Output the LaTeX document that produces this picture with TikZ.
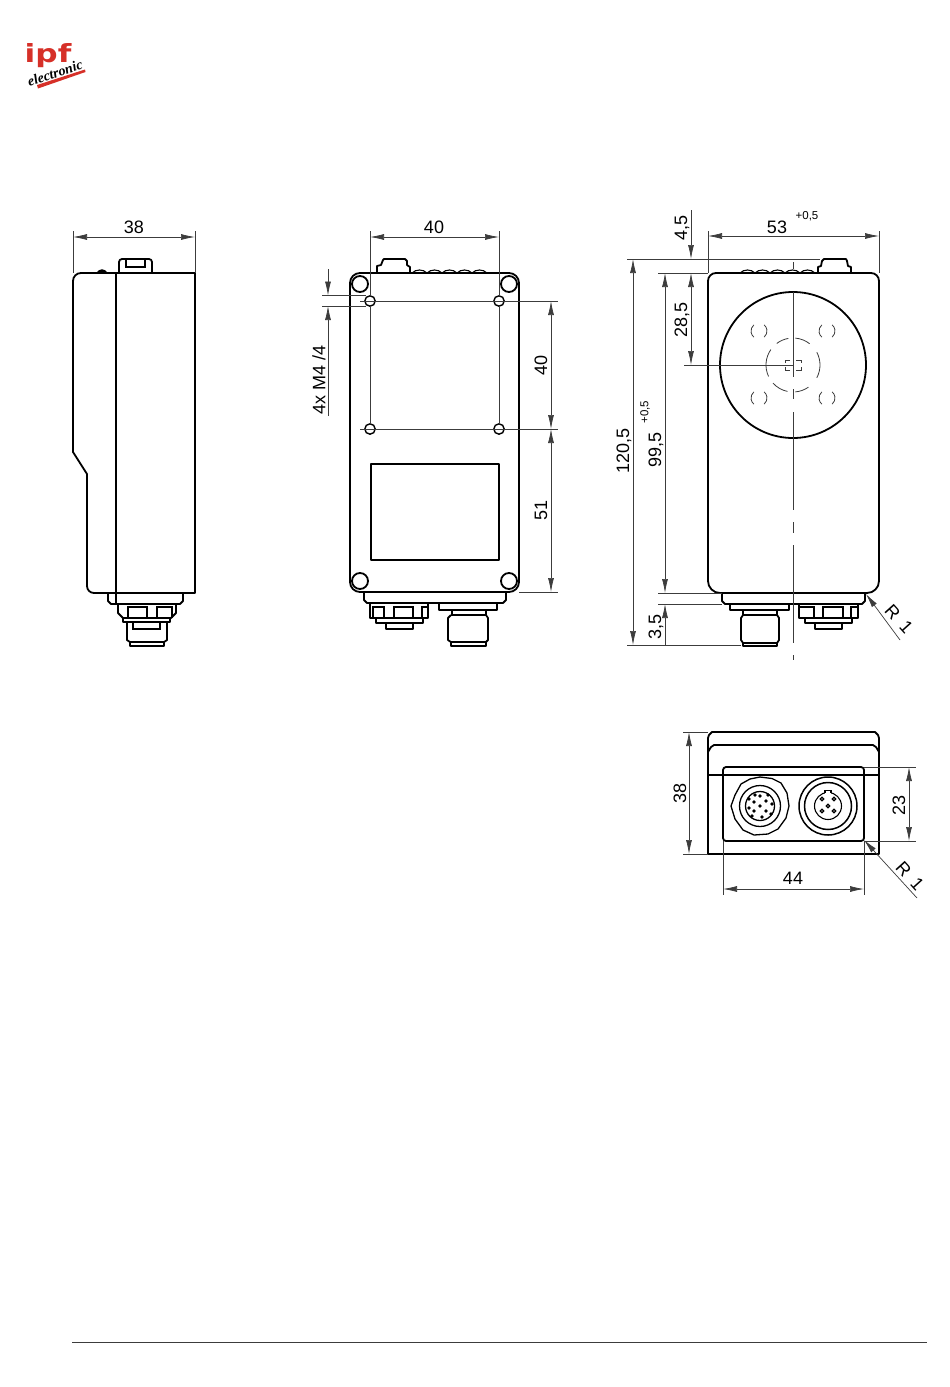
\documentclass[tikz,border=0pt]{standalone}
\usepackage{fontspec}
\setmainfont{Liberation Sans}
\newfontfamily\logofont{DejaVu Sans}
\newfontfamily\logoscript{Liberation Serif}
\usetikzlibrary{arrows.meta}

\definecolor{logored}{RGB}{214,48,40}
\definecolor{dimgray}{RGB}{60,60,60}

\begin{document}
\begin{tikzpicture}[
  x=1pt, y=-1pt,
  outline/.style={line width=1.8pt, black, line join=round},
  detail/.style={line width=1.1pt, black},
  lensmark/.style={line width=0.8pt, dimgray},
  centerline/.style={line width=0.9pt, dimgray},
  extline/.style={line width=0.7pt, dimgray},
  dimline/.style={line width=0.7pt, dimgray, {Latex[length=14pt,width=6pt]}-{Latex[length=14pt,width=6pt]}},
  oneway/.style={line width=0.7pt, dimgray, -{Latex[length=14pt,width=6pt]}},
  leader/.style={line width=0.7pt, dimgray, {Latex[length=14pt,width=6pt]}-},
  dimtext/.style={font=\fontsize{18}{18}\selectfont, text=black, inner sep=0pt},
  tolerance/.style={font=\fontsize{11.5}{12}\selectfont, text=black, inner sep=0pt}
]
\useasboundingbox (0,0) rectangle (950,1387);

% ====== LOGO ======
\node[font=\logofont\bfseries\fontsize{25}{25}\selectfont, text=logored, inner sep=0pt, xscale=1.25, anchor=base] (logoname) at (48,62) {ipf};
\fill[logored] (37,85) -- (85,69.5) -- (85.5,72) -- (38,88.5) -- cycle;
\node[font=\logoscript\itshape\bfseries\fontsize{14}{14}\selectfont, rotate=18, inner sep=0pt] (logosub) at (55,73) {electronic};

% ====== LEFT VIEW ======
\draw[outline] (87,586) -- (87,474) -- (73,452) -- (73,281) arc[start angle=180, end angle=270, radius=8]
  -- (195,273) -- (195,593) -- (94,593) arc[start angle=90, end angle=180, radius=7];
\draw[outline] (116,273) -- (116,604);
% tab and bump
\draw[outline] (119,273) -- (119,262) arc[start angle=180, end angle=270, radius=3] -- (149,259) arc[start angle=270, end angle=360, radius=3] -- (152,273);
\draw[detail] (126,260) -- (126,267) -- (145,267) -- (145,260);
\fill (96,273) .. controls (100,268) and (104,268) .. (108,273) -- cycle;
% connector
\draw[outline] (108,593) -- (108,601) -- (111,604) -- (180,604) -- (183,601) -- (183,593);
\draw[outline] (118,604) -- (118,613) -- (123,618) -- (171,618) -- (176,613) -- (176,604);
\draw[detail] (128,618) -- (128,607) -- (147,607) -- (147,618);
\draw[detail] (157,618) -- (157,607) -- (172,607) -- (172,618);
\draw[outline] (123,618) -- (123,622) -- (170,622) -- (170,618);
\draw[outline] (127,622) -- (127,640) -- (130,642) -- (164,642) -- (167,640) -- (167,622);
\draw[detail] (133,622) -- (133,629) -- (160,629) -- (160,622);
\draw[outline] (130,642) -- (130,646) -- (164,646) -- (164,642);
% dimension
\draw[extline] (73,231) -- (73,273);
\draw[extline] (195,231) -- (195,273);
\draw[dimline] (73,237) -- (195,237);
\node[dimtext] (lwidth) at (134,227) {38};

% ====== MIDDLE VIEW ======
\draw[outline] (350,283) arc[start angle=180, end angle=270, radius=10] -- (509,273) arc[start angle=270, end angle=360, radius=10]
  -- (519,582) arc[start angle=0, end angle=90, radius=10] -- (360,592) arc[start angle=90, end angle=180, radius=10] -- cycle;
\foreach \hx/\hy in {360/284, 509/284, 360/581, 509/581}
  \draw[outline] (\hx,\hy) circle[radius=8];
\foreach \hx/\hy in {370/301, 499/301, 370/429, 499/429}
  \draw[outline, line width=1.4pt] (\hx,\hy) circle[radius=5.2];
\draw[outline] (371,464) rectangle (499,560);
% tab and waves
\draw[outline] (377,273) -- (377,266) -- (381,265) -- (383,260) -- (384,259) -- (405,259) -- (407,261) -- (407,265) -- (410,267) -- (410,273) -- (412,273);
\draw[detail] (412,273) \foreach \wx in {412,427,442,457,472} { .. controls (\wx+4,269) and (\wx+11,269) .. (\wx+15,273) };
% connectors
\draw[outline] (364,592) -- (364,600) -- (367,603) -- (503,603) -- (506,600) -- (506,592);
\draw[outline] (370,603) -- (370,618) -- (428,618) -- (428,603);
\draw[detail] (373,618) -- (373,607) -- (384,607) -- (384,618);
\draw[detail] (394,618) -- (394,607) -- (413,607) -- (413,618);
\draw[detail] (422,618) -- (422,607) -- (428,607);
\draw[outline] (376,618) -- (376,623) -- (423,623) -- (423,618);
\draw[outline] (386,623) -- (386,629) -- (413,629) -- (413,623);
\draw[outline] (439,603) -- (439,610) -- (497,610) -- (497,603);
\draw[detail] (452,610) -- (452,615);
\draw[detail] (486,610) -- (486,615);
\draw[detail] (451,615) -- (487,615);
\draw[outline] (451,615) -- (448,618) -- (448,640) -- (451,642) -- (486,642) -- (488,640) -- (488,618) -- (486,615);
\draw[outline] (451,642) -- (451,646) -- (486,646) -- (486,642);
% dimensions
\draw[extline] (370,231) -- (370,296);
\draw[extline] (499,231) -- (499,296);
\draw[extline] (370,306) -- (370,424);
\draw[extline] (499,306) -- (499,424);
\draw[dimline] (370,237) -- (499,237);
\node[dimtext] (mwidth) at (434,227) {40};
\draw[extline] (360,301) -- (558,301);
\draw[extline] (360,429) -- (558,429);
\draw[extline] (519,592) -- (558,592);
\draw[dimline] (551,301) -- (551,429);
\draw[dimline] (551,429) -- (551,592);
\node[dimtext, rotate=90] (mhole) at (541,365) {40};
\node[dimtext, rotate=90] (mlow) at (541,510) {51};
\draw[extline] (322,295.5) -- (366,295.5);
\draw[extline] (322,306) -- (366,306);
\draw[oneway] (328,269) -- (328,295.5);
\draw[oneway] (328,416) -- (328,306);
\node[dimtext, rotate=90] (mthread) at (319,380) {4x M4 /4};

% ====== RIGHT VIEW ======
\draw[outline] (708,281) arc[start angle=180, end angle=270, radius=8] -- (871,273) arc[start angle=270, end angle=360, radius=8]
  -- (879,581) arc[start angle=0, end angle=90, radius=12] -- (720,593) arc[start angle=90, end angle=180, radius=12] -- cycle;
\draw[outline] (793,365) circle[radius=73];
% lens marks
\draw[lensmark] (793,365) ++(28:27) arc[start angle=28, end angle=-28, radius=27];
\draw[lensmark] (793,365) ++(-52:27) arc[start angle=-52, end angle=-85, radius=27];
\draw[lensmark] (793,365) ++(-100:27) arc[start angle=-100, end angle=-127, radius=27];
\draw[lensmark] (793,365) ++(-145:27) arc[start angle=-145, end angle=-205, radius=27];
\draw[lensmark] (793,365) ++(-222:27) arc[start angle=-222, end angle=-258, radius=27];
\draw[lensmark] (793,365) ++(-275:27) arc[start angle=-275, end angle=-305, radius=27];
\foreach \mx/\my in {759/331, 827/331, 759/398, 827/398} {
  \draw[lensmark] (\mx,\my) ++(-130:8) arc[start angle=-130, end angle=-230, radius=8];
  \draw[lensmark] (\mx,\my) ++(50:8) arc[start angle=50, end angle=-50, radius=8];
}
\draw[lensmark] (785,363) -- (785,360) -- (790,360);
\draw[lensmark] (796,360) -- (801,360) -- (801,363);
\draw[lensmark] (801,367) -- (801,370) -- (796,370);
\draw[lensmark] (790,370) -- (785,370) -- (785,367);
% tab and waves
\draw[outline] (818,273) -- (818,267) -- (821,266) -- (822,261) -- (824,259) -- (846,259) -- (847,261) -- (848,266) -- (851,267) -- (851,273);
\draw[detail] (740,273) \foreach \wx in {740,755,770,785,800} { .. controls (\wx+4,269) and (\wx+11,269) .. (\wx+15,273) };
% connectors
\draw[outline] (722,593) -- (722,601) -- (725,604) -- (862,604) -- (865,601) -- (865,593);
\draw[outline] (730,604) -- (730,610) -- (789,610) -- (789,604);
\draw[detail] (743,610) -- (743,615);
\draw[detail] (777,610) -- (777,615);
\draw[detail] (743,615) -- (777,615);
\draw[outline] (743,615) -- (741,618) -- (741,640) -- (743,643) -- (777,643) -- (779,640) -- (779,618) -- (777,615);
\draw[outline] (743,643) -- (743,646) -- (777,646) -- (777,643);
\draw[outline] (799,604) -- (799,618) -- (858,618) -- (858,604);
\draw[detail] (799,607) -- (814,607) -- (814,618);
\draw[detail] (823,618) -- (823,607) -- (843,607) -- (843,618);
\draw[detail] (851,618) -- (851,607) -- (858,607);
\draw[outline] (805,618) -- (805,623) -- (852,623) -- (852,618);
\draw[outline] (815,623) -- (815,629) -- (842,629) -- (842,623);
% centre lines
\draw[centerline] (793,262) -- (793,269);
\draw[centerline] (793,292) -- (793,377);
\draw[centerline] (793,389) -- (793,399);
\draw[centerline] (793,412) -- (793,510);
\draw[centerline] (793,522) -- (793,533);
\draw[centerline] (793,545) -- (793,643);
\draw[centerline] (793,655) -- (793,660);
\draw[extline] (684,365) -- (793,365);
% dimensions
\draw[extline] (708,231) -- (708,273);
\draw[extline] (879,231) -- (879,273);
\draw[dimline] (708,236) -- (879,236);
\node[dimtext] (rwidth) at (777,227) {53};
\node[tolerance] (rwidthtol) at (807,216) {+0,5};
\draw[extline] (627,259) -- (820,259);
\draw[extline] (658,273) -- (708,273);
\draw[extline] (658,593) -- (722,593);
\draw[extline] (658,604) -- (722,604);
\draw[extline] (627,645) -- (741,645);
\draw[oneway] (691,210) -- (691,259);
\draw[dimline] (691,273) -- (691,365);
\node[dimtext, rotate=90] (rtop) at (682,228) {4,5};
\node[dimtext, rotate=90] (rlens) at (682,320) {28,5};
\draw[dimline] (633,259) -- (633,645);
\node[dimtext, rotate=90] (rtotal) at (624,451) {120,5};
\draw[dimline] (665,273) -- (665,593);
\node[dimtext, rotate=90] (rbody) at (656,450) {99,5};
\node[tolerance, rotate=90] (rbodytol) at (645,412) {+0,5};
\draw[oneway] (665,645) -- (665,604);
\node[dimtext, rotate=90] (rfoot) at (656,627) {3,5};
\draw[leader] (866,594) -- (900,640);
\node[dimtext, rotate=-48] (rradius) at (899,619) {\spaceskip=9pt R 1};

% ====== BOTTOM VIEW ======
\draw[outline] (708,854) -- (708,738) -- (709,735) -- (712,732) -- (875,732) -- (878,735) -- (879,738) -- (879,854) -- cycle;
\draw[outline] (708,752) -- (711,747) -- (714,745) -- (873,745) -- (876,747) -- (879,752);
\draw[outline] (708,775) -- (879,775);
\draw[outline, rounded corners=3pt] (723,767) rectangle (864,841);
% round plug with pins
\draw[detail, line width=1.3pt] (760,777) -- (772,778.5) -- (781,783) -- (787,793) -- (789,806) -- (786,818) -- (778,829) -- (768,834) -- (754,835)
  -- (743,830) -- (735,819) -- (731,806) -- (735,795) -- (741,784) -- (750,779) -- cycle;
\draw[detail, line width=1.3pt] (760,806) circle[radius=20.5];
\draw[detail, line width=1.3pt] (760,806) circle[radius=14.5];
\foreach \px/\py in {760/806, 754/802, 766/801, 766/811, 754/811, 760/796, 768/795, 772/804, 771/814, 762/817, 752/816, 749/808, 749/799, 755/795}
  \fill (\px,\py) circle[radius=1.8];
% round socket with pins
\draw[detail, line width=1.5pt] (828,806) circle[radius=29];
\draw[detail, line width=1.5pt] (828,806) circle[radius=23.5];
\draw[detail] (828,806) circle[radius=13.5];
\fill[white] (825,790) rectangle (831,794);
\draw[detail] (825,793) -- (825,790.5) -- (831,790.5) -- (831,793);
\foreach \px/\py in {828/806, 822/799, 834/799, 822/811, 834/811}
  \draw[detail, line width=1.3pt] (\px,\py) circle[radius=1.8];
% dimensions
\draw[extline] (683,732) -- (708,732);
\draw[extline] (683,854) -- (708,854);
\draw[dimline] (689,732) -- (689,854);
\node[dimtext, rotate=90] (bheight) at (680,793) {38};
\draw[extline] (864,767) -- (916,767);
\draw[extline] (864,841) -- (916,841);
\draw[dimline] (909,767) -- (909,841);
\node[dimtext, rotate=90] (binner) at (899,805) {23};
\draw[extline] (723,841) -- (723,895);
\draw[extline] (864,841) -- (864,895);
\draw[dimline] (723,889) -- (864,889);
\node[dimtext] (bwidth) at (793,878) {44};
\draw[leader] (864,840) -- (917,898);
\node[dimtext, rotate=-48] (bradius) at (910,876) {\spaceskip=9pt R 1};

% ====== FOOTER ======
\draw[line width=0.9pt, dimgray] (72,1342) -- (927,1342);

\end{tikzpicture}
\end{document}
